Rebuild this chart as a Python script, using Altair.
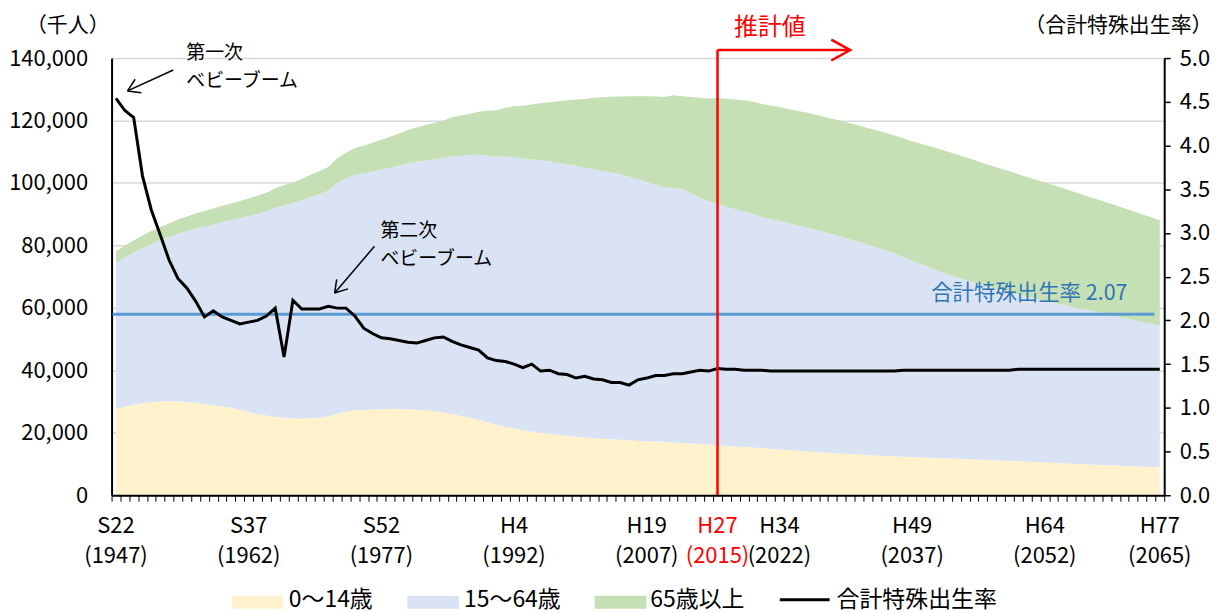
import math
import altair as alt
import pandas as pd

# ---------------- data ----------------
years = list(range(1947, 2066))

pop_0_14 = [
    27570, 28300, 29000, 29430, 29800, 30000, 30050, 30100, 29800, 29600,
    29200, 28800, 28400, 28070, 27400, 26700, 26000, 25500, 25170, 24850,
    24600, 24600, 24700, 24820, 25300, 26100, 26700, 27200, 27220, 27400,
    27500, 27600, 27600, 27510, 27400, 27200, 26900, 26500, 26030, 25400,
    24800, 24200, 23400, 22490, 21900, 21400, 20800, 20400, 20010, 19690,
    19370, 19060, 18740, 18500, 18280, 18100, 17900, 17730, 17590, 17430,
    17290, 17180, 17010, 16840, 16705, 16547, 16390, 16233, 15945, 15780,
    15590, 15420, 15250, 15075, 14880, 14680, 14480, 14270, 14073, 13880,
    13700, 13530, 13370, 13212, 13060, 12910, 12750, 12600, 12457, 12340,
    12230, 12130, 12030, 11936, 11830, 11720, 11610, 11500, 11384, 11260,
    11140, 11010, 10890, 10767, 10640, 10510, 10380, 10250, 10123, 10000,
    9880, 9750, 9630, 9508, 9400, 9290, 9180, 9080, 8975,
]
pop_15_64 = [
    46780, 47900, 48700, 49660, 50600, 51600, 52600, 53600, 54730, 55700,
    56800, 57900, 59000, 60000, 61300, 62700, 64100, 65400, 66930, 68000,
    69000, 69900, 70800, 71570, 72300, 73900, 74800, 75400, 75810, 76300,
    76800, 77300, 77900, 78840, 79400, 80000, 80700, 81500, 82510, 83300,
    84100, 84800, 85400, 85900, 86560, 86850, 87020, 87140, 87260, 87160,
    87040, 86920, 86760, 86380, 86140, 85710, 85400, 85080, 84420, 83730,
    83020, 82300, 81490, 81735, 81342, 80175, 79010, 77850, 77282, 76560,
    75960, 75450, 74920, 74058, 73550, 73130, 72650, 72170, 71701, 71170,
    70650, 70060, 69420, 68754, 68040, 67310, 66570, 65780, 64942, 63940,
    62840, 61810, 60780, 59777, 58940, 58110, 57380, 56600, 55845, 55200,
    54560, 53960, 53330, 52750, 52260, 51770, 51280, 50780, 50276, 49800,
    49330, 48870, 48400, 47928, 47390, 46850, 46330, 45810, 45291,
]
pop_65 = [
    3750, 3800, 3900, 4110, 4200, 4300, 4400, 4600, 4750, 4900,
    5000, 5100, 5300, 5350, 5500, 5600, 5800, 6000, 6180, 6400,
    6600, 6800, 7100, 7330, 7500, 7900, 8200, 8600, 8870, 9200,
    9500, 9900, 10300, 10650, 11000, 11400, 11700, 12000, 12470, 12900,
    13300, 13800, 14300, 14900, 15600, 16300, 16900, 17600, 18260, 19020,
    19760, 20510, 21190, 22040, 22870, 23630, 24310, 24880, 25760, 26600,
    27460, 28220, 29010, 29484, 29752, 30793, 31898, 33000, 33868, 34590,
    35150, 35600, 35920, 36192, 36370, 36490, 36570, 36660, 36771, 36840,
    36880, 36950, 37040, 37160, 37290, 37420, 37560, 37680, 37817, 38010,
    38290, 38600, 38920, 39206, 39290, 39352, 39330, 39270, 39192, 39080,
    38940, 38780, 38600, 38406, 38160, 37900, 37610, 37330, 37042, 36720,
    36390, 36070, 35740, 35403, 35090, 34780, 34450, 34130, 33810,
]
tfr = [
    4.54, 4.40, 4.32, 3.65, 3.26, 2.98, 2.69, 2.48, 2.37, 2.22,
    2.04, 2.11, 2.04, 2.00, 1.96, 1.98, 2.00, 2.05, 2.14, 1.58,
    2.23, 2.13, 2.13, 2.13, 2.16, 2.14, 2.14, 2.05, 1.91, 1.85,
    1.80, 1.79, 1.77, 1.75, 1.74, 1.77, 1.80, 1.81, 1.76, 1.72,
    1.69, 1.66, 1.57, 1.54, 1.53, 1.50, 1.46, 1.50, 1.42, 1.43,
    1.39, 1.38, 1.34, 1.36, 1.33, 1.32, 1.29, 1.29, 1.26, 1.32,
    1.34, 1.37, 1.37, 1.39, 1.39, 1.41, 1.43, 1.42, 1.45, 1.44,
    1.44, 1.43, 1.43, 1.43, 1.42, 1.42, 1.42, 1.42, 1.42, 1.42,
    1.42, 1.42, 1.42, 1.42, 1.42, 1.42, 1.42, 1.42, 1.42, 1.43,
    1.43, 1.43, 1.43, 1.43, 1.43, 1.43, 1.43, 1.43, 1.43, 1.43,
    1.43, 1.43, 1.44, 1.44, 1.44, 1.44, 1.44, 1.44, 1.44, 1.44,
    1.44, 1.44, 1.44, 1.44, 1.44, 1.44, 1.44, 1.44, 1.44,
]

groups = ["0～14歳", "15～64歳", "65歳以上"]
group_colors = ["#FFF2CC", "#DAE3F3", "#C5E0B4"]
tick_years = [1947, 1962, 1977, 1992, 2007, 2015, 2022, 2037, 2052, 2065]
tick_era = ["S22", "S37", "S52", "H4", "H19", "H27", "H34", "H49", "H64", "H77"]
replacement_rate = 2.07
estimate_start = 2015
estimate_arrow_end = 2030

# ---------------- layout / style ----------------
W, H = 1057, 439
FONT = "Noto Sans CJK JP"

rows = []
for i, yr in enumerate(years):
    a, b, c = pop_0_14[i], pop_15_64[i], pop_65[i]
    rows.append(dict(year=yr, group=groups[0], lo=0, hi=a))
    rows.append(dict(year=yr, group=groups[1], lo=a, hi=a + b))
    rows.append(dict(year=yr, group=groups[2], lo=a + b, hi=a + b + c))
area_df = pd.DataFrame(rows)
tfr_df = pd.DataFrame({"year": years, "tfr": tfr})
tick_df = pd.DataFrame({"year": tick_years,
                        "lab": ["%s\n(%d)" % (e, y) for e, y in zip(tick_era, tick_years)]})
blank = pd.DataFrame({"k": [0]})

xscale = alt.Scale(domain=[years[0] - 0.5, years[-1] + 0.5], nice=False, zero=False)
bounds = [years[0] - 0.5 + i for i in range(len(years) + 1)]
xaxis = alt.Axis(values=bounds, labels=False, ticks=True, tickSize=6, tickColor="#000",
                 tickWidth=1, domainColor="#000", domainWidth=2, grid=False,
                 title=None, zindex=1)


def X(field="year"):
    return alt.X(field + ":Q", scale=xscale, axis=xaxis)


left_scale = alt.Scale(domain=[0, 140000], nice=False, zero=True)
left_axis = alt.Axis(orient="left", values=list(range(0, 140001, 20000)), format=",d",
                     labelFontSize=22, labelPadding=24, ticks=False, domainColor="#000",
                     domainWidth=2, grid=True, gridColor="#D9D9D9", gridWidth=1.5,
                     title=None, labelColor="#000", labelFont=FONT)
right_scale = alt.Scale(domain=[0, 5], nice=False, zero=True)
right_axis = alt.Axis(orient="right", values=[i * 0.5 for i in range(11)], format=".1f",
                      labelFontSize=22, labelPadding=9, ticks=True, tickSize=6,
                      tickColor="#000", tickWidth=1.5, domainColor="#000", domainWidth=2,
                      grid=False, title=None, labelColor="#000", labelFont=FONT)

areas = alt.Chart(area_df).mark_area(opacity=1).encode(
    x=X(),
    y=alt.Y("lo:Q", scale=left_scale, axis=left_axis),
    y2="hi:Q",
    color=alt.Color("group:N", scale=alt.Scale(domain=groups, range=group_colors), legend=None),
)

rule207 = alt.Chart(pd.DataFrame({"rate": [replacement_rate]})).mark_rule(
    color="#5B9BD5", strokeWidth=3
).encode(
    y=alt.Y("rate:Q", scale=right_scale, axis=right_axis),
    x=alt.value(1), x2=alt.value(W - 10),
)
tfr_line = alt.Chart(tfr_df).mark_line(color="#000", strokeWidth=3).encode(
    x=X(),
    y=alt.Y("tfr:Q", scale=right_scale, axis=right_axis),
)
right_layer = alt.layer(rule207, tfr_line)

one = pd.DataFrame({"year": [estimate_start], "end": [estimate_arrow_end]})
RED = "#FF0000"
red_v = alt.Chart(one).mark_rule(color=RED, strokeWidth=2.5).encode(
    x=X(), y=alt.value(-8), y2=alt.value(H))
red_h = alt.Chart(one).mark_rule(color=RED, strokeWidth=2.5).encode(
    x=X(), x2="end:Q", y=alt.value(-8))
red_head = alt.Chart(one).mark_point(
    shape="M -1 -0.55 L 0 0 L -1 0.55", size=1444, filled=False, stroke=RED,
    strokeWidth=2.5, opacity=1, fill=None,
).encode(x=X("end"), y=alt.value(-8))


def seg(x1, y1, x2, y2, color="#000", w=1.5):
    return alt.Chart(blank).mark_rule(color=color, strokeWidth=w).encode(
        x=alt.value(x1), x2=alt.value(x2), y=alt.value(y1), y2=alt.value(y2))


def arrow(tx, ty, hx, hy, head=14, ang=32):
    dx, dy = hx - tx, hy - ty
    L = math.hypot(dx, dy)
    bx, by = -dx / L, -dy / L
    out = [seg(tx, ty, hx, hy)]
    for s in (1, -1):
        a = math.radians(ang * s)
        rx = bx * math.cos(a) - by * math.sin(a)
        ry = bx * math.sin(a) + by * math.cos(a)
        out.append(seg(hx, hy, hx + rx * head, hy + ry * head))
    return out


def label(txt, x, y, size=21, color="#000", align="left"):
    # y is the centre of the text line
    return alt.Chart(blank).mark_text(
        text=txt, align=align, baseline="top", fontSize=size, font=FONT, color=color,
    ).encode(x=alt.value(x), y=alt.value(y - 0.49 * size))


# x axis labels (two lines each)
XL = 22
xlab_black = alt.Chart(tick_df).transform_filter(f"datum.year != {estimate_start}").mark_text(
    fontSize=XL, font=FONT, baseline="top", color="#000", lineBreak="\n", lineHeight=30).encode(
    x=X(), y=alt.value(471 - 0.49 * XL), text="lab:N")
xlab_red = alt.Chart(tick_df).transform_filter(f"datum.year == {estimate_start}").mark_text(
    fontSize=XL, font=FONT, baseline="top", color=RED, lineBreak="\n", lineHeight=30).encode(
    x=X(), y=alt.value(471 - 0.49 * XL), text="lab:N")

AN = 19
annots = []
annots += arrow(62, 12, 16, 33)
annots += arrow(264, 189, 224, 236)
annots += [
    label("第一次", 75, -4.5, size=AN),
    label("ベビーブーム", 75, 23.5, size=AN),
    label("第二次", 270, 174, size=AN),
    label("ベビーブーム", 270, 202.5, size=AN),
    label("合計特殊出生率 2.07", 823, 236, size=21.5, color="#2E75B6"),
    label("（千人）", -44, -33, size=21, align="center"),
    label("（合計特殊出生率）", 1011, -33, size=21, align="center"),
    label("推計値", 661, -30, size=24, color=RED, align="center"),
]


def swatch(x1, x2, color):
    return alt.Chart(blank).mark_rect(color=color).encode(
        x=alt.value(x1), x2=alt.value(x2), y=alt.value(540), y2=alt.value(553))


LG = 23
legend = [
    swatch(121, 172, group_colors[0]), label(groups[0], 178, 544, size=LG),
    swatch(297, 349, group_colors[1]), label(groups[1], 354, 544, size=LG),
    swatch(485, 537, group_colors[2]), label(groups[2], 541, 544, size=LG),
    seg(671, 544, 721, 544, w=3), label("合計特殊出生率", 728, 544, size=LG),
]

chart = alt.layer(
    areas, right_layer, red_v, red_h, red_head,
    xlab_black, xlab_red, *annots, *legend,
).resolve_scale(y="independent").properties(
    width=W, height=H,
    autosize=alt.AutoSizeParams(type="none"),
    padding={"left": 104, "top": 49, "right": 50, "bottom": 120},
).configure_view(stroke=None)

chart.save("out.html", embed_options={"renderer": "svg", "actions": False})
